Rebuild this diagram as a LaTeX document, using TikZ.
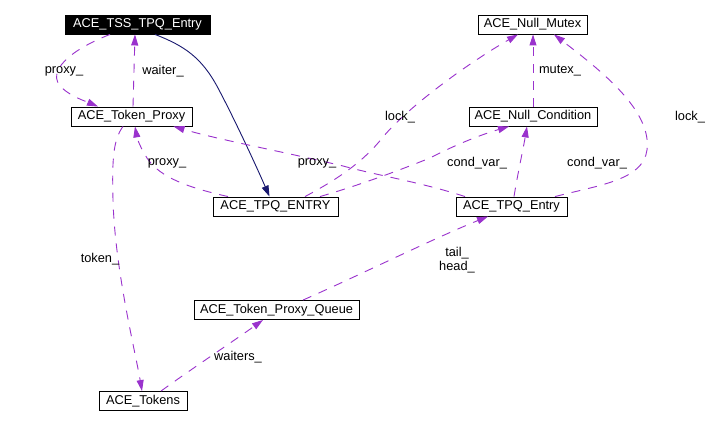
\documentclass[tikz,border=0pt]{standalone}
\usepackage{fontspec}
\setmainfont{Liberation Sans}
\usetikzlibrary{arrows.meta}
\definecolor{deppurple}{HTML}{9A32CD}
\definecolor{depnavy}{HTML}{191970}
\begin{document}
\begin{tikzpicture}[x=1pt,y=-1pt,
  cls/.style={draw, line width=0.9pt, inner sep=0pt, minimum height=19pt,
    font=\fontsize{12.8}{14}\selectfont},
  clsfill/.style={cls, fill=black, text=white},
  lbl/.style={inner sep=0pt, font=\fontsize{12.8}{14}\selectfont, align=center},
  dep/.style={draw=deppurple, line width=0.9pt, dash pattern=on 9pt off 8pt,
    -{Triangle[length=11pt,width=7pt,fill=deppurple]}},
  inh/.style={draw=depnavy, line width=0.9pt,
    -{Triangle[length=11pt,width=7pt,fill=depnavy]}}
]
\useasboundingbox[fill=white] (0,0) rectangle (725,425);

% nodes
\node[clsfill, minimum width=145pt] (tss)    at (137.5,24.5) {ACE\_TSS\_TPQ\_Entry};
\node[cls, minimum width=109pt]     (mutex)  at (532.5,24.5) {ACE\_Null\_Mutex};
\node[cls, minimum width=121pt]     (tp)     at (131.5,116.5) {ACE\_Token\_Proxy};
\node[cls, minimum width=128pt]     (cond)   at (533,116.5) {ACE\_Null\_Condition};
\node[cls, minimum width=125pt]     (tpqU)   at (275.5,206.5) {ACE\_TPQ\_ENTRY};
\node[cls, minimum width=111pt]     (tpqL)   at (511.5,206.5) {ACE\_TPQ\_Entry};
\node[cls, minimum width=165pt]     (queue)  at (276.5,310) {ACE\_Token\_Proxy\_Queue};
\node[cls, minimum width=88pt]      (tokens) at (143,401) {ACE\_Tokens};

% inheritance
\draw[inh] ([xshift=17.5pt]tss.south) .. controls (185,46) and (202,58) .. (218,88)
  .. controls (236,122) and (258,170) .. ([xshift=-6pt]tpqU.north);

% waiter_
\draw[dep] ([xshift=1.5pt]tp.north) -- ([xshift=-2.5pt]tss.south);
% proxy_ (TSS -> Token_Proxy)
\draw[dep] ([xshift=-27.5pt]tss.south) .. controls (70,50) and (45,72) .. (62,88)
  .. controls (72,97) and (85,101) .. ([xshift=-33.5pt]tp.north);
% token_
\draw[dep] ([xshift=-8.5pt]tp.south) .. controls (113,140) and (112,160) .. (113,200)
  .. controls (115,270) and (135,350) .. ([xshift=-1pt]tokens.north);
% proxy_ (TPQ_ENTRY -> Token_Proxy)
\draw[dep] ([xshift=-47.5pt]tpqU.north) .. controls (190,188) and (160,178) .. (147,158)
  .. controls (140,147) and (137,138) .. ([xshift=3.5pt]tp.south);
% proxy_ (TPQ_Entry -> Token_Proxy)
\draw[dep] ([xshift=-46.5pt]tpqL.north) .. controls (420,182) and (380,176) .. (343,166)
  .. controls (280,151) and (220,140) .. ([xshift=42pt]tp.south);
% lock_ (TPQ_ENTRY -> Null_Mutex)
\draw[dep] ([xshift=29.5pt]tpqU.north) .. controls (340,178) and (365,160) .. (383,137)
  .. controls (410,105) and (470,62) .. ([xshift=-14.5pt]mutex.south);
% cond_var_ (TPQ_ENTRY -> Null_Condition)
\draw[dep] ([xshift=44.5pt]tpqU.north) .. controls (360,185) and (400,170) .. (430,158)
  .. controls (455,145) and (480,135) .. ([xshift=-24pt]cond.south);
% cond_var_ (TPQ_Entry -> Null_Condition)
\draw[dep] ([xshift=2.5pt]tpqL.north) .. controls (518,172) and (523,150) .. ([xshift=-6pt]cond.south);
% lock_ (TPQ_Entry -> Null_Mutex)
\draw[dep] ([xshift=43.5pt]tpqL.north) .. controls (600,185) and (643,180) .. (647,150)
  .. controls (652,110) and (600,70) .. ([xshift=21.5pt]mutex.south);
% mutex_
\draw[dep] (cond.north) -- (cond.north |- mutex.south);
% tail_ head_
\draw[dep] ([xshift=26.5pt]queue.north) .. controls (360,275) and (430,240) .. ([xshift=-23.5pt]tpqL.south);
% waiters_
\draw[dep] ([xshift=18pt]tokens.north) .. controls (190,370) and (235,340) .. ([xshift=-13.5pt]queue.south);

% labels
\node[lbl] (l1)  at (64,71)   {proxy\_};
\node[lbl] (l2)  at (163,71)  {waiter\_};
\node[lbl] (l3)  at (100,259) {token\_};
\node[lbl] (l4)  at (167,163) {proxy\_};
\node[lbl] (l5)  at (317,163) {proxy\_};
\node[lbl] (l6)  at (400,117) {lock\_};
\node[lbl] (l7)  at (477,163) {cond\_var\_};
\node[lbl] (l8)  at (560,71)  {mutex\_};
\node[lbl] (l9)  at (597,163) {cond\_var\_};
\node[lbl] (l10) at (690,117) {lock\_};
\node[lbl] (l11) at (457,260) {tail\_\\head\_};
\node[lbl] (l12) at (238,357) {waiters\_};
\end{tikzpicture}
\end{document}
